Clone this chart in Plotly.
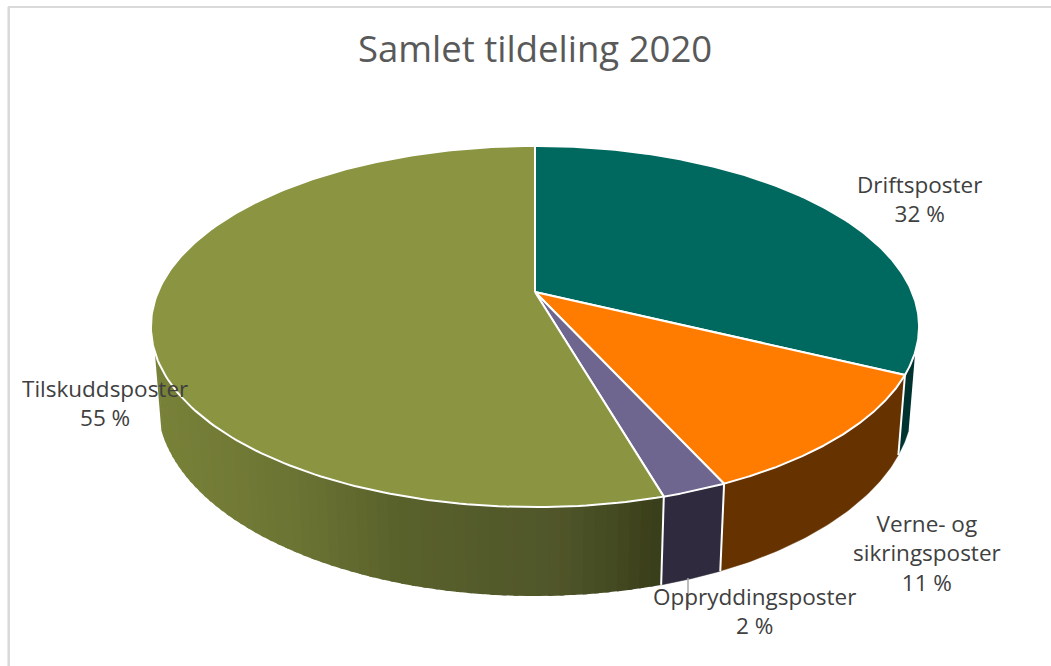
import numpy as np
import plotly.graph_objects as go

categories = ["Driftsposter", "Verne- og<br>sikringsposter", "Oppryddingsposter", "Tilskuddsposter"]
values = [32.2, 11.0, 2.3, 54.5]
shown = ["32 %", "11 %", "2 %", "55 %"]
top_colors = ["#00695F", "#FF7C00", "#6F668F", "#8A9441"]
side_colors = ["#00332F", "#653200", "#2F2A3D", None]
title = "Samlet tildeling 2020"

FONT = "Open Sans"
W, H = 1051, 666
CX, CY, A1, B1, K1 = 535.0, 292.0, 377.0, 174.0, 0.191
Y2, A2, B2, K2 = 366.0, 371.0, 187.0, 0.187
SIL = np.radians(18.9)   # angle past the horizontal where the side silhouette sits


def top(t):
    w = 1 + K1 * np.sin(t)
    return CX + A1 * np.cos(t) / w, CY - B1 * np.sin(t) / w


def bot(t):
    w = 1 + K2 * np.sin(t)
    return CX + A2 * np.cos(t) / w, Y2 - B2 * np.sin(t) / w


def lerp_color(x):
    stops = [(150, (122, 131, 57)), (300, (108, 116, 52)), (400, (90, 98, 44)),
             (560, (80, 86, 42)), (600, (72, 78, 36)), (660, (58, 63, 27))]
    xs = [s[0] for s in stops]
    c = [int(np.interp(x, xs, [s[1][i] for s in stops])) for i in range(3)]
    return "rgb(%d,%d,%d)" % tuple(c)


fig = go.Figure()
fr = np.array(values) / sum(values)
edges = np.pi / 2 - 2 * np.pi * np.concatenate([[0], np.cumsum(fr)])
front_right = -SIL
front_left = -np.pi + SIL


def add_poly(xs, ys, fill, line=None, lw=1):
    fig.add_trace(go.Scatter(x=xs, y=ys, mode="lines", fill="toself", fillcolor=fill,
                             line=dict(color=line or fill, width=lw), hoverinfo="skip",
                             showlegend=False))


# side walls
for i, col in enumerate(side_colors):
    a, b = edges[i], edges[i + 1]
    a2 = min(a, front_right)
    b2 = max(b, front_left)
    if a2 <= b2:
        continue
    if col is not None:
        t = np.linspace(a2, b2, 60)
        tx, ty = top(t)
        bx, by = bot(t)
        add_poly(np.r_[tx, bx[::-1]], np.r_[ty, by[::-1]], col, col, 0.5)
    else:
        # painted from the left end to the right so each band overlaps the next
        ts = np.linspace(b2, a2, 61)
        for j in range(60):
            t = np.linspace(ts[j], a2 if j == 59 else ts[j + 1] + 0.4 * (ts[1] - ts[0]), 3)
            tx, ty = top(t)
            bx, by = bot(t)
            c = lerp_color((tx.mean() + bx.mean()) / 2)
            add_poly(np.r_[tx, bx[::-1]], np.r_[ty, by[::-1]], c, c, 0)

# white verticals between side walls
for e in edges[1:-1]:
    if front_left < e < front_right:
        t = np.array([e])
        tx, ty = top(t)
        bx, by = bot(t)
        fig.add_trace(go.Scatter(x=[tx[0], bx[0]], y=[ty[0], by[0]], mode="lines",
                                 line=dict(color="white", width=2), hoverinfo="skip",
                                 showlegend=False))

# top faces
for i, col in enumerate(top_colors):
    t = np.linspace(edges[i], edges[i + 1], 200)
    x, y = top(t)
    add_poly(np.r_[CX, x, CX], np.r_[CY, y, CY], col, "white", 2)

# labels
label_pos = [(919, 199), (927, 553), (754, 611), (105, 403)]
for c, s, (lx, ly) in zip(categories, shown, label_pos):
    fig.add_annotation(x=lx, y=ly, text=f"{c}<br>{s}", showarrow=False, xanchor="center",
                       yanchor="middle", font=dict(family=FONT, size=22.5, color="#404040"),
                       align="center")

fig.add_annotation(x=535, y=48, text=title, showarrow=False, xanchor="center", yanchor="middle",
                   font=dict(family=FONT, size=36.5, color="#595959"))

fig.update_layout(
    width=W, height=H, margin=dict(l=0, r=0, t=0, b=0),
    paper_bgcolor="white", plot_bgcolor="white", showlegend=False,
    xaxis=dict(range=[0, W], visible=False, fixedrange=True),
    yaxis=dict(range=[H, 0], visible=False, fixedrange=True),
    shapes=[
        dict(type="line", x0=8.7, x1=8.7, y0=7, y1=H, line=dict(color="#D9D9D9", width=2.5)),
        dict(type="line", x0=8, x1=W, y0=7, y1=7, line=dict(color="#D9D9D9", width=2)),
        dict(type="line", x0=688, x1=688, y0=578, y1=608, line=dict(color="#A6A6A6", width=1.5)),
    ],
)
fig.write_html("out.html", config={"displayModeBar": False},
               post_script="document.body.style.margin='0';document.body.style.overflow='hidden';")
